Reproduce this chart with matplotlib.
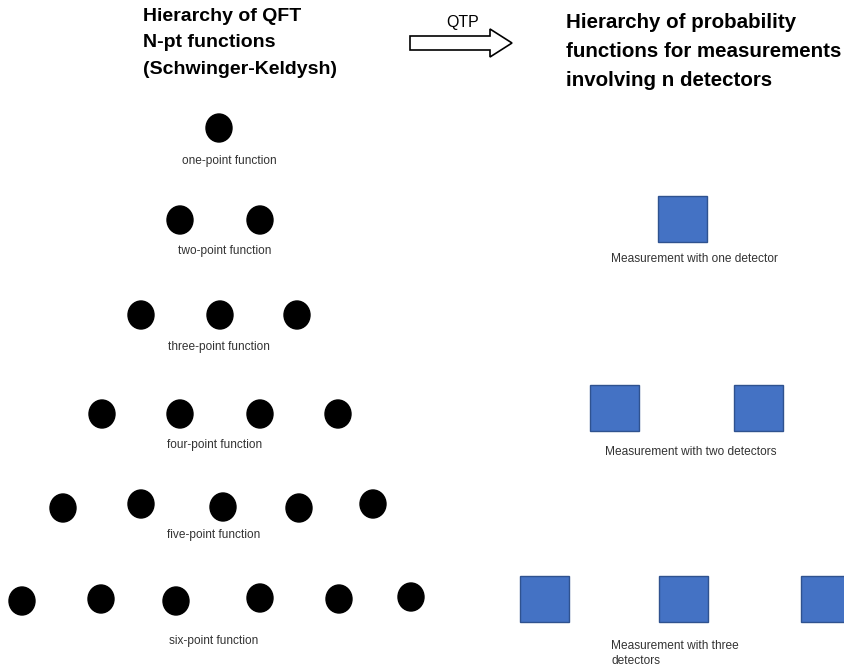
import matplotlib
matplotlib.use("Agg")
import matplotlib.pyplot as plt
from matplotlib.patches import Ellipse, Rectangle, Polygon

W, H = 844, 670

# ---- data ----
left_title = "Hierarchy of QFT\nN-pt functions\n(Schwinger-Keldysh)"
right_title = "Hierarchy of probability\nfunctions for measurements\ninvolving n detectors"
arrow_label = "QTP"

dot_rows_x = [
    [219],
    [180, 260],
    [141, 220, 297],
    [102, 180, 260, 338],
    [63, 141, 223, 299, 373],
    [22, 101, 176, 260, 339, 411],
]
dot_rows_y = [
    [128],
    [220, 220],
    [315, 315, 315],
    [414, 414, 414, 414],
    [508, 504, 507, 508, 504],
    [601, 599, 601, 598, 599, 597],
]
dot_labels = ["one-point function", "two-point function", "three-point function",
              "four-point function", "five-point function", "six-point function"]
dot_label_x = [229, 225, 219, 215, 214, 214]
dot_label_y = [161, 251, 347, 445, 535, 641]

square_rows_x = [[658], [590, 734], [520, 659, 801]]
square_rows_y = [196, 385, 576]
square_labels = ["Measurement with one detector", "Measurement with two detectors",
                 "Measurement with three\ndetectors"]
square_label_x = [611, 605, 611]
square_label_y = [259, 452, 646]

dot_w, dot_h = 26, 28
sq_w, sq_h = 49, 46

fig = plt.figure(figsize=(W / 100, H / 100), dpi=100)
ax = fig.add_axes([0, 0, 1, 1])
ax.set_xlim(0, W)
ax.set_ylim(H, 0)
ax.axis("off")

title_font = ["Liberation Sans", "DejaVu Sans"]
small_font = ["Liberation Sans", "DejaVu Sans"]

# headings
ax.text(143, 8, left_title, ha="left", va="top", fontsize=14, fontweight="bold",
        family=title_font, linespacing=1.72)
ax.text(566, 13, right_title, ha="left", va="top", fontsize=14.8, fontweight="bold",
        family=title_font, linespacing=1.68)

# hollow arrow
ax_x0, ax_x1, head_x = 410, 512, 490
cy, bh, hh = 43, 7, 14
poly = [(ax_x0, cy - bh), (head_x, cy - bh), (head_x, cy - hh), (ax_x1, cy),
        (head_x, cy + hh), (head_x, cy + bh), (ax_x0, cy + bh)]
ax.add_patch(Polygon(poly, closed=True, facecolor="white", edgecolor="black", lw=1.2))
ax.text(463, 22, arrow_label, ha="center", va="center", fontsize=11.5, family=small_font)

# dots
for xs, ys in zip(dot_rows_x, dot_rows_y):
    for x, y in zip(xs, ys):
        ax.add_patch(Ellipse((x, y), dot_w, dot_h, facecolor="black", edgecolor="black"))
for lab, x, y in zip(dot_labels, dot_label_x, dot_label_y):
    ax.text(x, y, lab, ha="center", va="center", fontsize=8.6, family=small_font,
            color="#333333")

# squares
for xs, y in zip(square_rows_x, square_rows_y):
    for x in xs:
        ax.add_patch(Rectangle((x, y), sq_w, sq_h, facecolor="#4472C4",
                               edgecolor="#2F528F", lw=1))
for lab, x, y in zip(square_labels, square_label_x, square_label_y):
    lines = lab.split("\n")
    for i, line in enumerate(lines):
        ax.text(x, y + 15 * i, line, ha="left", va="center", fontsize=8.6,
                family=small_font, color="#333333")

fig.savefig("out.png", dpi=100)
